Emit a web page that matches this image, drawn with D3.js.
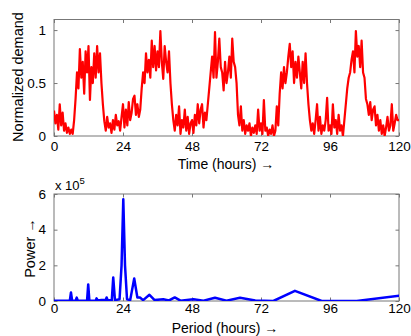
<!DOCTYPE html>
<html>
<head>
<meta charset="utf-8">
<script src="https://cdn.jsdelivr.net/npm/d3@7"></script>
<style>
  body { margin: 0; background: #fff; }
  svg text { font-family: "Liberation Sans", Arial, sans-serif; fill: #000; }
</style>
</head>
<body>
<div id="chart"></div>
<script>
// demand sampled every half hour, t = 0 .. 120
const hourStep = 0.5;
const demand = [
  0.24,0.12,0.2,0.06,0.3,0.1,0.22,0.05,0.12,0.03,0.08,0.02,
  0.06,0.02,0.15,0.35,0.6,0.45,0.82,0.55,0.7,0.4,0.8,0.6,
  0.85,0.34,0.65,0.5,0.78,0.55,0.85,0.6,0.78,0.5,0.3,0.14,
  0.05,0.18,0.08,0.12,0.03,0.15,0.06,0.2,0.1,0.14,0.05,0.18,
  0.3,0.08,0.25,0.1,0.32,0.15,0.22,0.35,0.38,0.2,0.3,0.18,
  0.25,0.45,0.6,0.5,0.78,0.6,0.72,0.55,0.9,0.65,0.85,0.62,
  0.8,0.65,0.99,0.7,0.54,0.85,0.7,0.6,0.8,0.5,0.3,0.15,
  0.05,0.2,0.1,0.28,0.02,0.15,0.08,0.25,0.05,0.18,0.02,0.12,
  0.15,0.03,0.2,0.1,0.3,0.12,0.25,0.3,0.08,0.22,0.15,0.3,
  0.45,0.6,0.75,0.55,0.98,0.55,0.7,0.92,0.65,0.6,0.43,0.7,
  0.5,0.6,0.75,0.55,0.92,0.7,0.65,0.5,0.2,0.1,0.28,0.05,
  0.15,0.02,0.1,0.05,0.12,0.0,0.08,0.03,0.1,0.02,0.25,0.05,
  0.12,0.02,0.34,0.05,0.08,0.0,0.06,0.02,0.1,0.0,0.05,0.28,
  0.1,0.4,0.6,0.45,0.65,0.5,0.6,0.75,0.87,0.65,0.8,0.5,
  0.7,0.55,0.75,0.6,0.45,0.7,0.5,0.78,0.5,0.3,0.15,0.05,
  0.12,0.02,0.15,0.3,0.05,0.18,0.02,0.1,0.05,0.15,0.36,0.05,
  0.1,0.02,0.3,0.08,0.15,0.02,0.2,0.05,0.1,0.0,0.15,0.3,
  0.45,0.55,0.6,0.72,0.8,0.6,0.99,0.75,0.85,0.65,0.9,0.6,
  0.55,0.35,0.3,0.2,0.32,0.15,0.25,0.28,0.1,0.2,0.05,0.15,
  0.02,0.1,0.0,0.08,0.18,0.05,0.1,0.3,0.05,0.12,0.2,0.15,
  0.15
];

// spectrum vertices: period (hours) and power (x 10^5)
const period = [0,5.5,5.9,6.3,7.5,7.9,8.3,11.5,11.9,12.3,14.5,14.8,15.2,16.5,18,18.3,18.7,20.1,20.6,21.2,22.8,23.5,24.1,24.7,25.4,26.5,27.9,29,29.9,31,33.2,35,38,40,42,44,48.5,52,56,60,64.7,70,76.3,83.8,93.1,105.3,125];
const power  = [0.02,0.02,0.48,0.03,0.02,0.19,0.02,0.03,0.93,0.03,0.02,0.15,0.03,0.05,0.05,0.2,0.03,0.05,1.32,0.05,0.1,2.0,5.7,2.0,0.1,0.05,1.26,0.2,0.2,0.05,0.35,0.05,0.1,0.03,0.2,0.02,0.1,0.02,0.18,0.02,0.18,0.03,0.0,0.57,0.0,0.0,0.4];

const xTicks = [0,24,48,72,96,120];
const demandTicks = [0,0.5,1];
const powerTicks = [0,2,4,6];

const W = 411, H = 336;
const svg = d3.select("#chart").append("svg").attr("width", W).attr("height", H);

const x = d3.scaleLinear().domain([0,120]).range([54,399]);
const yTop = d3.scaleLinear().domain([0,1.1]).range([136,19.5]);
const yBot = d3.scaleLinear().domain([0,6]).range([301,194]);

function frame(y, yTicks, yFmt, labelDy) {
  const g = svg.append("g");
  const y0 = y.range()[0], y1 = y.range()[1];
  g.append("rect")
    .attr("x", 54).attr("y", y1).attr("width", 345).attr("height", y0 - y1)
    .attr("fill", "none").attr("stroke", "#777").attr("stroke-width", 1);

  const ax = (axis, tr) => {
    const a = g.append("g").attr("transform", tr).call(axis);
    a.select(".domain").remove();
    a.selectAll("line").attr("stroke", "#777");
    a.selectAll("text").style("font-size", "13.5px").attr("fill", "#000");
    return a;
  };
  ax(d3.axisBottom(x).tickValues(xTicks).tickSize(-3.5).tickPadding(labelDy), `translate(0,${y0})`);
  ax(d3.axisTop(x).tickValues(xTicks).tickSize(-3.5).tickFormat(""), `translate(0,${y1})`);
  ax(d3.axisLeft(y).tickValues(yTicks).tickSize(-3.5).tickPadding(8).tickFormat(yFmt), `translate(54,0)`);
  ax(d3.axisRight(y).tickValues(yTicks).tickSize(-3.5).tickFormat(""), `translate(399,0)`);
  return g;
}

svg.append("clipPath").attr("id", "clipTop").append("rect")
  .attr("x", 54).attr("y", 19.5).attr("width", 345).attr("height", 116.5);
svg.append("clipPath").attr("id", "clipBot").append("rect")
  .attr("x", 54).attr("y", 194).attr("width", 345).attr("height", 107);

// top: demand over time
frame(yTop, demandTicks, d => d === 0 ? "0" : d3.format("")(d), 5);

svg.append("path")
  .datum(demand)
  .attr("clip-path", "url(#clipTop)")
  .attr("fill", "none")
  .attr("stroke", "#ff0000")
  .attr("stroke-width", 2.2)
  .attr("stroke-linejoin", "round")
  .attr("d", d3.line().x((d, i) => x(i * hourStep)).y(d => yTop(d)));

// bottom: power spectrum
frame(yBot, powerTicks, d3.format("d"), 2);

svg.append("path")
  .datum(period.map((p, i) => [p, power[i]]))
  .attr("clip-path", "url(#clipBot)")
  .attr("fill", "none")
  .attr("stroke", "#0000ff")
  .attr("stroke-width", 2.5)
  .attr("stroke-linejoin", "round")
  .attr("d", d3.line().x(d => x(d[0])).y(d => yBot(d[1])));

// labels
svg.append("text").attr("x", 226).attr("y", 168.5).attr("text-anchor", "middle")
  .style("font-size", "14px").text("Time (hours) \u2192");
svg.append("text").attr("x", 225).attr("y", 333).attr("text-anchor", "middle")
  .style("font-size", "14px").text("Period (hours) \u2192");
svg.append("text").attr("transform", "translate(23,77) rotate(-90)").attr("text-anchor", "middle")
  .style("font-size", "14.5px").text("Normalized demand");
svg.append("text").attr("transform", "translate(35,248) rotate(-90)").attr("text-anchor", "middle")
  .style("font-size", "14.5px").text("Power \u2192");

const mult = svg.append("text").attr("x", 55).attr("y", 190).style("font-size", "13px");
mult.append("tspan").text("x 10");
mult.append("tspan").attr("dy", -6).style("font-size", "9.5px").text("5");
</script>
</body>
</html>
